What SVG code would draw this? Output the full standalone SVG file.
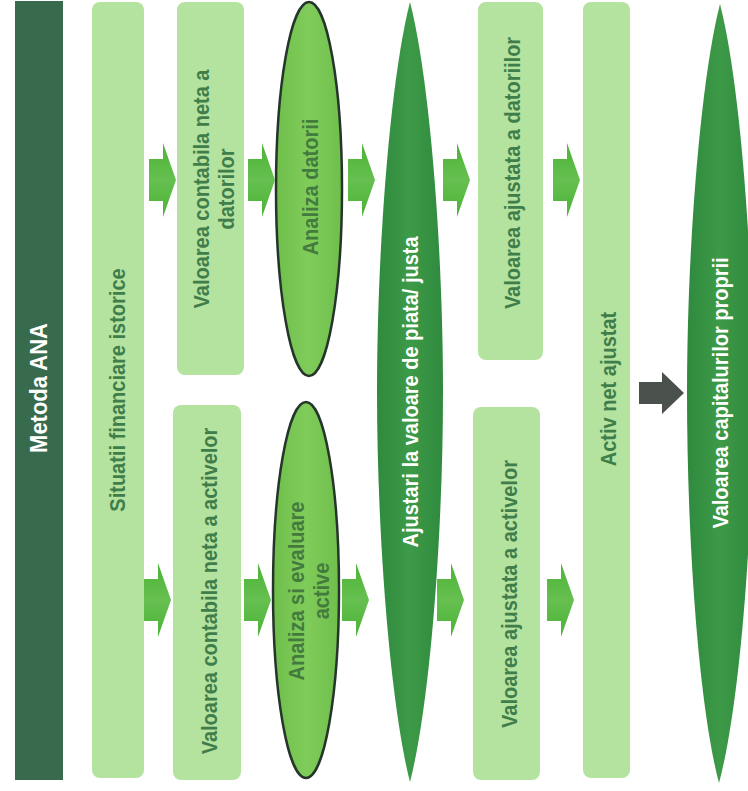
<svg xmlns="http://www.w3.org/2000/svg" xmlns:xlink="http://www.w3.org/1999/xlink" width="748" height="791" viewBox="0 0 748 791">
<defs>
<style>
.box{fill:#b4e29f;}
.bt{font-family:"Liberation Sans",Arial,sans-serif;font-weight:bold;font-size:20px;fill:#3f7e4a;text-anchor:middle;dominant-baseline:central;}
.wt{font-family:"Liberation Sans",Arial,sans-serif;font-weight:bold;font-size:20px;fill:#ffffff;text-anchor:middle;dominant-baseline:central;}
.et{fill:#437b3e;}
.ell{fill:url(#ge);stroke:#26352a;stroke-width:2.5;}
.big{fill:url(#gb);}
</style>
<linearGradient id="ga" x1="0" y1="0" x2="0" y2="1">
<stop offset="0" stop-color="#4cb236"/>
<stop offset="0.5" stop-color="#66c050"/>
<stop offset="1" stop-color="#4cb236"/>
</linearGradient>
<linearGradient id="ge" x1="0" y1="0" x2="1" y2="0">
<stop offset="0" stop-color="#6fbf4c"/>
<stop offset="0.5" stop-color="#80cc5a"/>
<stop offset="1" stop-color="#6fbf4c"/>
</linearGradient>
<linearGradient id="gb" x1="0" y1="0" x2="1" y2="0">
<stop offset="0" stop-color="#2f8a3e"/>
<stop offset="0.5" stop-color="#3d9a47"/>
<stop offset="1" stop-color="#2f8a3e"/>
</linearGradient>
<path id="arrow" d="M0,-21 L14,-21 L14,-37 L27,0 L14,37 L14,21 L0,21 Z"/>
</defs>
<rect width="748" height="791" fill="#ffffff"/>

<g id="metoda">
<rect x="15" y="1" width="48" height="779" fill="#386a4d"/>
<text class="wt" style="font-size:22px" transform="translate(39,388) rotate(-90) scale(1,1.1)">Metoda ANA</text>
</g>

<g id="situatii">
<rect class="box" x="92" y="2" width="52" height="776" rx="8"/>
<text class="bt" transform="translate(117,390) rotate(-90) scale(1,1.1)">Situatii financiare istorice</text>
</g>

<g id="vc-datorii">
<rect class="box" x="177" y="2" width="67" height="373" rx="8"/>
<text class="bt" transform="translate(213,189) rotate(-90) scale(1,1.1)"><tspan x="0" dy="-11.5">Valoarea contabila neta a</tspan><tspan x="0" dy="23">datorilor</tspan></text>
</g>

<g id="vc-active">
<rect class="box" x="173" y="405" width="68" height="375" rx="8"/>
<text class="bt" transform="translate(209,591) rotate(-90) scale(1,1.1)">Valoarea contabila neta a activelor</text>
</g>

<g id="analiza-datorii">
<ellipse class="ell" cx="309" cy="189" rx="33" ry="187"/>
<text class="bt et" transform="translate(310,187) rotate(-90) scale(1,1.1)">Analiza datorii</text>
</g>

<g id="analiza-active">
<ellipse class="ell" cx="306" cy="590" rx="33" ry="188"/>
<text class="bt et" transform="translate(308,591) rotate(-90) scale(1,1.1)"><tspan x="0" dy="-11.5">Analiza si evaluare</tspan><tspan x="0" dy="23">active</tspan></text>
</g>

<g id="ajustari">
<path class="big" d="M410,2 C430,80 443,250 443,392 C443,534 430,704 410,782 C390,704 377,534 377,392 C377,250 390,80 410,2 Z"/>
<text class="wt" transform="translate(410,392) rotate(-90) scale(1,1.1)">Ajustari la valoare de piata/ justa</text>
</g>

<g id="va-datorii">
<rect class="box" x="478" y="2" width="65" height="358" rx="8"/>
<text class="bt" transform="translate(512,173) rotate(-90) scale(1,1.1)">Valoarea ajustata a datoriilor</text>
</g>

<g id="va-active">
<rect class="box" x="473" y="407" width="67" height="373" rx="8"/>
<text class="bt" transform="translate(509,594) rotate(-90) scale(1,1.1)">Valoarea ajustata a activelor</text>
</g>

<g id="activ-net">
<rect class="box" x="583" y="2" width="47" height="776" rx="8"/>
<text class="bt" transform="translate(608,389) rotate(-90) scale(1,1.1)">Activ net ajustat</text>
</g>

<g id="capitaluri">
<path class="big" d="M720,4 C740,82 753,252 753,393 C753,534 740,704 719,783 C698,704 687,534 687,393 C687,252 700,82 720,4 Z"/>
<text class="wt" transform="translate(720,393) rotate(-90) scale(1,1.1)">Valoarea capitalurilor proprii</text>
</g>

<g id="connectors">
<use xlink:href="#arrow" fill="url(#ga)" x="149" y="180"/>
<use xlink:href="#arrow" fill="url(#ga)" x="248" y="180"/>
<use xlink:href="#arrow" fill="url(#ga)" x="348" y="180"/>
<use xlink:href="#arrow" fill="url(#ga)" x="443" y="180"/>
<use xlink:href="#arrow" fill="url(#ga)" x="553" y="180"/>
<use xlink:href="#arrow" fill="url(#ga)" x="144" y="600"/>
<use xlink:href="#arrow" fill="url(#ga)" x="244" y="600"/>
<use xlink:href="#arrow" fill="url(#ga)" x="342" y="600"/>
<use xlink:href="#arrow" fill="url(#ga)" x="437" y="600"/>
<use xlink:href="#arrow" fill="url(#ga)" x="547" y="600"/>
<path d="M639,382 L662,382 L662,372 L684,393 L662,414 L662,404 L639,404 Z" fill="#4a514d"/>
</g>
</svg>
